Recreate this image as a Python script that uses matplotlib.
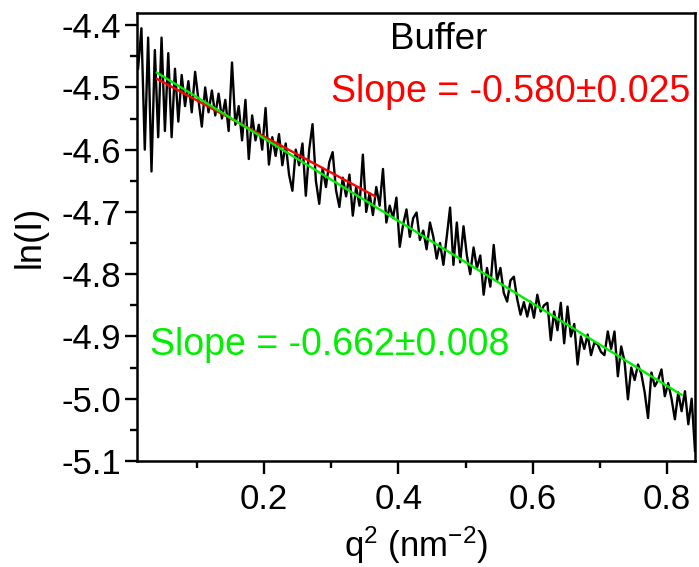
import numpy as np
import matplotlib
matplotlib.use("Agg")
import matplotlib.pyplot as plt
from matplotlib.ticker import MultipleLocator, FormatStrFormatter

plt.rcParams['font.family'] = ['Liberation Sans', 'DejaVu Sans']
plt.rcParams['mathtext.fontset'] = 'custom'
plt.rcParams['mathtext.rm'] = 'Liberation Sans'
plt.rcParams['mathtext.it'] = 'Liberation Sans'

# q^2 grid (nm^-2)
q2 = np.linspace(0.012, 0.842, 167)

# ln(I) values
lnI = [
    -4.470, -4.405, -4.600, -4.420, -4.635, -4.440, -4.580, -4.420, -4.570, -4.445,
    -4.580, -4.470, -4.555, -4.480, -4.530, -4.490, -4.540, -4.475, -4.520, -4.563,
    -4.500, -4.540, -4.505, -4.545, -4.510, -4.550, -4.520, -4.570, -4.460, -4.560,
    -4.530, -4.585, -4.520, -4.615, -4.545, -4.585, -4.560, -4.600, -4.533, -4.624,
    -4.580, -4.610, -4.575, -4.625, -4.590, -4.640, -4.666, -4.600, -4.625, -4.590,
    -4.674, -4.600, -4.559, -4.650, -4.687, -4.630, -4.660, -4.620, -4.604, -4.665,
    -4.692, -4.645, -4.675, -4.640, -4.706, -4.660, -4.690, -4.608, -4.700, -4.670,
    -4.705, -4.660, -4.690, -4.631, -4.717, -4.690, -4.710, -4.677, -4.756, -4.720,
    -4.696, -4.740, -4.710, -4.701, -4.745, -4.730, -4.760, -4.717, -4.740, -4.775,
    -4.750, -4.785, -4.740, -4.693, -4.785, -4.717, -4.781, -4.723, -4.770, -4.800,
    -4.757, -4.790, -4.770, -4.833, -4.790, -4.820, -4.753, -4.810, -4.790, -4.830,
    -4.844, -4.810, -4.804, -4.840, -4.865, -4.845, -4.868, -4.844, -4.870, -4.833,
    -4.860, -4.850, -4.846, -4.906, -4.860, -4.890, -4.846, -4.911, -4.852, -4.900,
    -4.880, -4.945, -4.900, -4.920, -4.897, -4.930, -4.910, -4.913, -4.925, -4.930,
    -4.892, -4.920, -4.892, -4.964, -4.916, -4.940, -5.001, -4.950, -4.970, -4.945,
    -4.960, -4.990, -5.031, -4.958, -4.980, -4.970, -4.953, -4.996, -4.975, -5.000,
    -5.033, -4.990, -5.020, -4.988, -5.041, -5.000, -5.084,
]

# linear fits: (slope, intercept, x start, x end)
red_fit = (-0.580, -4.463, 0.040, 0.365)
green_fit = (-0.662, -4.4497, 0.040, 0.822)

fig = plt.figure(figsize=(6.99, 5.67), dpi=100)
ax = fig.add_axes([0.1956, 0.187, 0.7987, 0.7906])

ax.plot(q2, lnI, color='black', lw=1.7, zorder=2)

for (m, b, x0, x1), c in [(red_fit, '#ff0000'), (green_fit, '#00ee00')]:
    xs = np.array([x0, x1])
    ax.plot(xs, m * xs + b, color=c, lw=1.7, zorder=3)

ax.set_xlim(0.01, 0.842)
ax.set_ylim(-5.1, -4.38)

ax.xaxis.set_major_locator(MultipleLocator(0.2))
ax.xaxis.set_minor_locator(MultipleLocator(0.1))
ax.yaxis.set_major_locator(MultipleLocator(0.1))
ax.yaxis.set_minor_locator(MultipleLocator(0.05))
ax.xaxis.set_major_formatter(FormatStrFormatter('%.1f'))
ax.yaxis.set_major_formatter(FormatStrFormatter('%.1f'))

ax.tick_params(axis='both', which='major', direction='out', length=9, width=1.7,
               labelsize=25)
ax.tick_params(axis='y', which='major', pad=2)
ax.tick_params(axis='x', which='major', pad=7)
ax.tick_params(axis='both', which='minor', direction='out', length=5, width=1.7)
ax.tick_params(top=False, right=False)
for s in ax.spines.values():
    s.set_linewidth(1.8)

ax.set_xlabel(r'q$^2$ (nm$^{-2}$)', fontsize=25, labelpad=6)
ax.set_ylabel('ln(I)', fontsize=26, labelpad=10)

ax.text(0.54, 0.94, 'Buffer', transform=ax.transAxes, fontsize=26.5,
        ha='center', va='center', color='black')
ax.text(0.348, 0.823, 'Slope = -0.580±0.025', transform=ax.transAxes, fontsize=27,
        ha='left', va='center', color='#ff0000')
ax.text(0.024, 0.259, 'Slope = -0.662±0.008', transform=ax.transAxes, fontsize=27,
        ha='left', va='center', color='#00ee00')

fig.savefig('out.png', dpi=100)
